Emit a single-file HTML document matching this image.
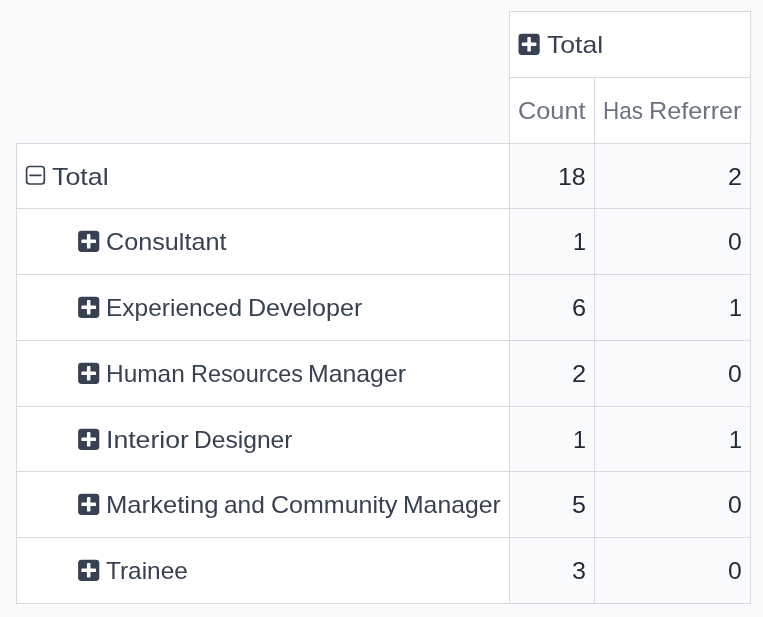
<!DOCTYPE html>
<html><head><meta charset="utf-8">
<title>Pivot</title>
<style>
html,body{margin:0;padding:0;}
body{width:763px;height:617px;background:#f9fafb;position:relative;overflow:hidden;font-family:"Liberation Sans",sans-serif;color:#374151;font-size:24px;}
.c{position:absolute;box-sizing:border-box;border:1px solid #d8dadd;}
.w{background:#fff;}
.g{background:#f9fafb;}
.t{position:absolute;line-height:28px;height:28px;white-space:pre;transform-origin:0 50%;}
.h{color:#6b7280;}
.n{color:#1f2937;}
svg{position:absolute;}
</style></head><body>
<div class="c w" style="left:509px;top:11px;width:242px;height:67px"></div>
<div class="c w" style="left:509px;top:77px;width:86px;height:67px"></div>
<div class="c w" style="left:594px;top:77px;width:157px;height:67px"></div>
<div class="c w" style="left:16px;top:143px;width:494px;height:66px"></div>
<div class="c g" style="left:509px;top:143px;width:86px;height:66px"></div>
<div class="c g" style="left:594px;top:143px;width:157px;height:66px"></div>
<div class="c w" style="left:16px;top:208px;width:494px;height:67px"></div>
<div class="c g" style="left:509px;top:208px;width:86px;height:67px"></div>
<div class="c g" style="left:594px;top:208px;width:157px;height:67px"></div>
<div class="c w" style="left:16px;top:274px;width:494px;height:67px"></div>
<div class="c g" style="left:509px;top:274px;width:86px;height:67px"></div>
<div class="c g" style="left:594px;top:274px;width:157px;height:67px"></div>
<div class="c w" style="left:16px;top:340px;width:494px;height:67px"></div>
<div class="c g" style="left:509px;top:340px;width:86px;height:67px"></div>
<div class="c g" style="left:594px;top:340px;width:157px;height:67px"></div>
<div class="c w" style="left:16px;top:406px;width:494px;height:66px"></div>
<div class="c g" style="left:509px;top:406px;width:86px;height:66px"></div>
<div class="c g" style="left:594px;top:406px;width:157px;height:66px"></div>
<div class="c w" style="left:16px;top:471px;width:494px;height:67px"></div>
<div class="c g" style="left:509px;top:471px;width:86px;height:67px"></div>
<div class="c g" style="left:594px;top:471px;width:157px;height:67px"></div>
<div class="c w" style="left:16px;top:537px;width:494px;height:67px"></div>
<div class="c g" style="left:509px;top:537px;width:86px;height:67px"></div>
<div class="c g" style="left:594px;top:537px;width:157px;height:67px"></div>
<svg style="left:518px;top:33px" width="24" height="24" viewBox="0 0 24 24"><g transform="translate(0.50 0.70)"><rect width="21.2" height="21.2" rx="3.4" fill="#374151"/><rect x="3.3" y="8.85" width="14.6" height="3.5" rx=".9" fill="#fff"/><rect x="8.85" y="3.3" width="3.5" height="14.6" rx=".9" fill="#fff"/></g></svg>
<svg style="left:25px;top:165px" width="21" height="21" viewBox="0 0 21 21"><rect x="1.6" y="1.5" width="17.7" height="17.5" rx="3" fill="none" stroke="#374151" stroke-width="1.7"/><path d="M4.9 10.35H16" stroke="#374151" stroke-width="1.55" stroke-linecap="round"/></svg>
<svg style="left:78px;top:230px" width="24" height="24" viewBox="0 0 24 24"><g transform="translate(0.10 0.70)"><rect width="21.2" height="21.2" rx="3.4" fill="#374151"/><rect x="3.3" y="8.85" width="14.6" height="3.5" rx=".9" fill="#fff"/><rect x="8.85" y="3.3" width="3.5" height="14.6" rx=".9" fill="#fff"/></g></svg>
<svg style="left:78px;top:296px" width="24" height="24" viewBox="0 0 24 24"><g transform="translate(0.10 0.70)"><rect width="21.2" height="21.2" rx="3.4" fill="#374151"/><rect x="3.3" y="8.85" width="14.6" height="3.5" rx=".9" fill="#fff"/><rect x="8.85" y="3.3" width="3.5" height="14.6" rx=".9" fill="#fff"/></g></svg>
<svg style="left:78px;top:362px" width="24" height="24" viewBox="0 0 24 24"><g transform="translate(0.10 0.70)"><rect width="21.2" height="21.2" rx="3.4" fill="#374151"/><rect x="3.3" y="8.85" width="14.6" height="3.5" rx=".9" fill="#fff"/><rect x="8.85" y="3.3" width="3.5" height="14.6" rx=".9" fill="#fff"/></g></svg>
<svg style="left:78px;top:428px" width="24" height="24" viewBox="0 0 24 24"><g transform="translate(0.10 0.70)"><rect width="21.2" height="21.2" rx="3.4" fill="#374151"/><rect x="3.3" y="8.85" width="14.6" height="3.5" rx=".9" fill="#fff"/><rect x="8.85" y="3.3" width="3.5" height="14.6" rx=".9" fill="#fff"/></g></svg>
<svg style="left:78px;top:493px" width="24" height="24" viewBox="0 0 24 24"><g transform="translate(0.10 0.70)"><rect width="21.2" height="21.2" rx="3.4" fill="#374151"/><rect x="3.3" y="8.85" width="14.6" height="3.5" rx=".9" fill="#fff"/><rect x="8.85" y="3.3" width="3.5" height="14.6" rx=".9" fill="#fff"/></g></svg>
<svg style="left:78px;top:559px" width="24" height="24" viewBox="0 0 24 24"><g transform="translate(0.10 0.70)"><rect width="21.2" height="21.2" rx="3.4" fill="#374151"/><rect x="3.3" y="8.85" width="14.6" height="3.5" rx=".9" fill="#fff"/><rect x="8.85" y="3.3" width="3.5" height="14.6" rx=".9" fill="#fff"/></g></svg>
<div class="lab"><span class="t" style="left:546.90px;top:31px;transform:scaleX(1.1081)">Total</span></div>
<div class="lab"><span class="t h" style="left:518.37px;top:97px;transform:scaleX(1.0537)">Count</span></div>
<div class="lab"><span class="t h" style="left:603.42px;top:97px;transform:scaleX(0.9347)">Has</span> <span class="t h" style="left:649.23px;top:97px;transform:scaleX(1.0504)">Referrer</span></div>
<div class="lab"><span class="t" style="left:52.33px;top:163px;transform:scaleX(1.1160)">Total</span></div>
<div class="lab"><span class="t n" style="left:557.62px;top:163px;transform:scaleX(1.0394)">18</span></div>
<div class="lab"><span class="t n" style="left:728.47px;top:163px;transform:scaleX(1.0442)">2</span></div>
<div class="lab"><span class="t" style="left:106.04px;top:228px;transform:scaleX(1.0492)">Consultant</span></div>
<div class="lab"><span class="t n" style="left:572.52px;top:228px;transform:scaleX(0.9750)">1</span></div>
<div class="lab"><span class="t n" style="left:728.19px;top:228px;transform:scaleX(1.0312)">0</span></div>
<div class="lab"><span class="t" style="left:105.89px;top:294px;transform:scaleX(1.0200)">Experienced</span> <span class="t" style="left:248.26px;top:294px;transform:scaleX(1.0445)">Developer</span></div>
<div class="lab"><span class="t n" style="left:571.86px;top:294px;transform:scaleX(1.0568)">6</span></div>
<div class="lab"><span class="t n" style="left:729.02px;top:294px;transform:scaleX(0.9750)">1</span></div>
<div class="lab"><span class="t" style="left:105.89px;top:360px;transform:scaleX(1.0173)">Human</span> <span class="t" style="left:191.32px;top:360px;transform:scaleX(0.9752)">Resources</span> <span class="t" style="left:308.29px;top:360px;transform:scaleX(1.0341)">Manager</span></div>
<div class="lab"><span class="t n" style="left:571.92px;top:360px;transform:scaleX(1.0595)">2</span></div>
<div class="lab"><span class="t n" style="left:728.19px;top:360px;transform:scaleX(1.0312)">0</span></div>
<div class="lab"><span class="t" style="left:105.56px;top:426px;transform:scaleX(1.1100)">Interior</span> <span class="t" style="left:193.79px;top:426px;transform:scaleX(1.0253)">Designer</span></div>
<div class="lab"><span class="t n" style="left:572.52px;top:426px;transform:scaleX(0.9750)">1</span></div>
<div class="lab"><span class="t n" style="left:729.02px;top:426px;transform:scaleX(0.9750)">1</span></div>
<div class="lab"><span class="t" style="left:106.23px;top:491px;transform:scaleX(1.0679)">Marketing</span> <span class="t" style="left:223.98px;top:491px;transform:scaleX(1.0199)">and</span> <span class="t" style="left:271.05px;top:491px;transform:scaleX(1.0421)">Community</span> <span class="t" style="left:402.76px;top:491px;transform:scaleX(1.0313)">Manager</span></div>
<div class="lab"><span class="t n" style="left:571.58px;top:491px;transform:scaleX(1.0386)">5</span></div>
<div class="lab"><span class="t n" style="left:728.19px;top:491px;transform:scaleX(1.0312)">0</span></div>
<div class="lab"><span class="t" style="left:106.12px;top:557px;transform:scaleX(1.0163)">Trainee</span></div>
<div class="lab"><span class="t n" style="left:571.58px;top:557px;transform:scaleX(1.0457)">3</span></div>
<div class="lab"><span class="t n" style="left:728.19px;top:557px;transform:scaleX(1.0312)">0</span></div>
</body></html>
